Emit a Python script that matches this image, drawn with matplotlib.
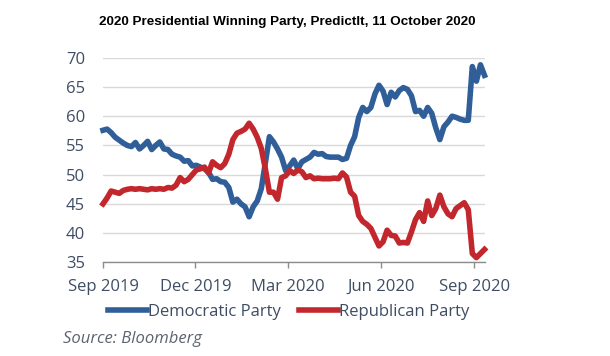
import numpy as np
import pandas as pd
import matplotlib
matplotlib.use("Agg")
import matplotlib.pyplot as plt
import matplotlib.dates as mdates

# PredictIt prices, every 4 days from 1 Sep 2019
start_date = "2019-09-01"
step = "4D"

dem = [57.6, 57.8, 57.2, 56.4, 55.9, 55.4, 55.0, 54.8, 55.5, 54.4, 55.0, 55.7,
       54.3, 55.0, 55.6, 54.4, 54.3, 53.5, 53.2, 53.0, 52.3, 52.4, 51.5, 51.6,
       51.3, 51.0, 50.4, 49.2, 49.3, 48.8, 48.7, 47.8, 45.3, 45.8, 45.0, 44.5,
       42.8, 44.5, 45.5, 47.6, 52.0, 56.5, 55.6, 54.4, 53.0, 50.7, 51.5,
       52.5, 51.0, 52.2, 52.6, 53.0, 53.8, 53.5, 53.6, 53.1, 53.0, 53.0, 53.0,
       52.6, 52.8, 55.0, 56.5, 59.8, 61.5, 60.8, 61.5, 63.8, 65.3, 64.3,
       62.0, 64.1, 63.3, 64.4, 64.9, 64.6, 63.5, 60.8, 61.0, 60.0, 61.5, 60.5,
       58.0, 56.0, 58.2, 59.0, 60.0, 59.8, 59.5, 59.3, 59.3, 68.5, 66.0, 68.8, 67.0]

rep = [45.0, 46.0, 47.2, 47.0, 46.8, 47.3, 47.5, 47.6, 47.5, 47.6, 47.5, 47.4,
       47.6, 47.5, 47.6, 47.5, 47.8, 47.7, 48.2, 49.5, 48.8, 49.2, 50.0, 50.8,
       51.0, 51.3, 50.3, 52.2, 51.6, 51.2, 51.9, 53.5, 56.0, 57.1, 57.4, 57.8,
       58.8, 57.8, 56.4, 54.5, 51.0, 47.0, 47.0, 45.8, 49.5, 49.8, 50.7,
       50.2, 50.8, 50.5, 49.5, 49.8, 49.3, 49.4, 49.3, 49.3, 49.3, 49.4, 49.3,
       50.3, 49.6, 47.0, 46.3, 43.0, 42.0, 41.5, 40.8, 39.3, 37.8, 38.5,
       40.5, 39.6, 39.5, 38.3, 38.4, 38.3, 40.2, 42.3, 43.5, 42.0, 45.5, 43.0,
       44.2, 46.5, 44.5, 43.3, 42.8, 44.2, 44.7, 45.2, 44.0, 36.5, 35.8, 36.5, 37.2]

tick_dates = ["2019-09-01", "2019-12-01", "2020-03-01", "2020-06-01", "2020-09-01"]
y_ticks = [35, 40, 45, 50, 55, 60, 65, 70]

dates = pd.date_range(start_date, periods=len(dem), freq=step)

blue = "#2f5e98"
red = "#c1272d"
txt = "#3f4d63"

plt.rcParams["font.family"] = ["Open Sans", "DejaVu Sans"]

fig = plt.figure(figsize=(6.10, 3.56), dpi=100)
ax = fig.add_axes([103 / 610, 1 - 262.3 / 356, 381.5 / 610, 204.5 / 356])

ax.plot(dates, dem, color=blue, lw=4, label="Democratic Party", clip_on=False)
ax.plot(dates, rep, color=red, lw=4, label="Republican Party", clip_on=False)

ax.set_ylim(35, 70)
ax.set_xlim(dates[0], dates[-1])
ax.set_yticks(y_ticks)
ax.set_xticks(pd.to_datetime(tick_dates))
ax.xaxis.set_major_formatter(mdates.DateFormatter("%b %Y"))

ax.grid(axis="y", color="#d9d9d9", lw=1)
ax.set_axisbelow(True)
for s in ["top", "right", "left"]:
    ax.spines[s].set_visible(False)
ax.spines["bottom"].set_color("#8c8c8c")
ax.spines["bottom"].set_linewidth(1)

ax.tick_params(axis="y", length=0, pad=13, labelsize=12, labelcolor=txt)
ax.tick_params(axis="x", length=4, width=1, color="#8c8c8c", pad=8, labelsize=12, labelcolor=txt)

leg = fig.legend(loc="center", bbox_to_anchor=(288.5 / 610, 1 - 312 / 356), ncol=2, frameon=False,
                 fontsize=12, handlelength=2.35, handletextpad=0.05, columnspacing=1.1,
                 borderpad=0, borderaxespad=0)
for t in leg.get_texts():
    t.set_color(txt)
for h in leg.get_lines():
    h.set_linewidth(4)

fig.text(287 / 610, 1 - 22.3 / 356, "2020 Presidential Winning Party, PredictIt, 11 October 2020",
         ha="center", va="center", fontsize=9.7, fontweight="bold",
         family=["Liberation Sans Narrow", "Liberation Sans", "DejaVu Sans"])
fig.text(63 / 610, 1 - 339 / 356, "Source: Bloomberg", ha="left", va="center",
         fontsize=12, style="italic", color="#5c6470")

fig.savefig("out.png", dpi=100)
